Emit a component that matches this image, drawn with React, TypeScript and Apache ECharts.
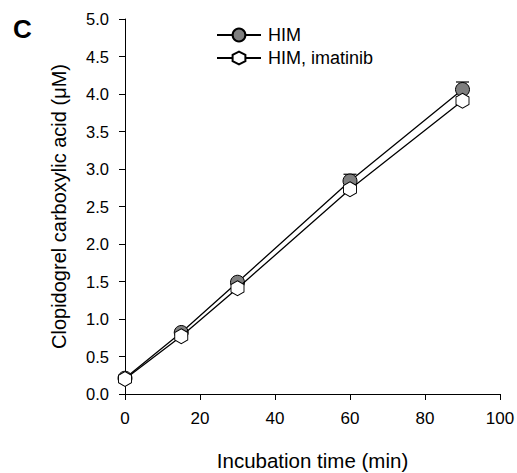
import React, { useEffect, useRef } from "react";
import * as echarts from "echarts";

const times = [0, 15, 30, 60, 90];
const himValues = [0.21, 0.82, 1.49, 2.84, 4.06];
const himErrors = [0.02, 0.03, 0.04, 0.09, 0.1];
const imaValues = [0.2, 0.77, 1.41, 2.73, 3.91];
const imaErrors = [0.02, 0.03, 0.03, 0.04, 0.05];
const seriesNames = ["HIM", "HIM, imatinib"];
const xTicks = { min: 0, max: 100, interval: 20 };
const yTicks = { min: 0, max: 5, interval: 0.5 };

const FONT = "'Liberation Sans', Arial, sans-serif";
const HEX = "path://M0,-1 L0.866,-0.5 L0.866,0.5 L0,1 L-0.866,0.5 L-0.866,-0.5 Z";

function errorSeries(values: number[], errs: number[], z: number) {
  return {
    type: "custom",
    z,
    silent: true,
    data: times.map((t, i) => [t, values[i], values[i] + errs[i]]),
    renderItem: (params: any, api: any) => {
      const base = api.coord([api.value(0), api.value(1)]);
      const top = api.coord([api.value(0), api.value(2)]);
      const hw = 6.5;
      return {
        type: "group",
        children: [
          { type: "line", shape: { x1: base[0], y1: base[1], x2: top[0], y2: top[1] }, style: { stroke: "#000", lineWidth: 1.2 } },
          { type: "line", shape: { x1: top[0] - hw, y1: top[1], x2: top[0] + hw, y2: top[1] }, style: { stroke: "#000", lineWidth: 1.2 } },
        ],
      };
    },
  };
}

export default function App() {
  const ref = useRef<HTMLDivElement>(null);
  useEffect(() => {
    if (!ref.current) return;
    const chart = echarts.init(ref.current, undefined, { renderer: "svg" });
    const axisLine = { show: true, lineStyle: { color: "#000", width: 1 } };
    chart.setOption({
      animation: false,
      textStyle: { fontFamily: FONT },
      grid: { left: 125, right: 17, top: 19, bottom: 79, containLabel: false, outerBoundsMode: "none" },
      graphic: [
        { type: "text", left: 13, top: 16, style: { text: "C", font: `bold 26px ${FONT}`, fill: "#000" } },
      ],
      legend: {
        orient: "vertical",
        left: 211,
        top: 21,
        itemWidth: 44,
        itemHeight: 16,
        itemGap: 5,
        textStyle: { fontSize: 18, lineHeight: 16, color: "#000", fontFamily: FONT, padding: [0, 0, 0, 2] },
        data: seriesNames,
      },
      xAxis: {
        type: "value",
        min: xTicks.min,
        max: xTicks.max,
        interval: xTicks.interval,
        name: "Incubation time (min)",
        nameLocation: "middle",
        nameGap: 56,
        nameTextStyle: { fontSize: 20.5, color: "#000", fontFamily: FONT },
        axisLine,
        axisTick: { show: true, length: 6, lineStyle: { color: "#000" } },
        axisLabel: { fontSize: 17, color: "#000", margin: 16, fontFamily: FONT },
        splitLine: { show: false },
      },
      yAxis: {
        type: "value",
        min: yTicks.min,
        max: yTicks.max,
        interval: yTicks.interval,
        name: "Clopidogrel carboxylic acid (\u03bcM)",
        nameLocation: "middle",
        nameGap: 56,
        nameTextStyle: { fontSize: 20, color: "#000", fontFamily: FONT },
        axisLine,
        axisTick: { show: true, length: 6, lineStyle: { color: "#000" } },
        axisLabel: { fontSize: 16.5, color: "#000", margin: 16, fontFamily: FONT, formatter: (v: number) => v.toFixed(1) },
        splitLine: { show: false },
      },
      series: [
        errorSeries(himValues, himErrors, 1),
        errorSeries(imaValues, imaErrors, 1),
        {
          name: seriesNames[0],
          type: "line",
          z: 2,
          data: times.map((t, i) => [t, himValues[i]]),
          symbol: "circle",
          symbolSize: 14,
          lineStyle: { color: "#000", width: 1.3 },
          itemStyle: { color: "#7f7f7f", borderColor: "#000", borderWidth: 1 },
        },
        {
          name: seriesNames[1],
          type: "line",
          z: 3,
          data: times.map((t, i) => [t, imaValues[i]]),
          symbol: HEX,
          symbolSize: [13, 15],
          lineStyle: { color: "#000", width: 1.3 },
          itemStyle: { color: "#fff", borderColor: "#000", borderWidth: 1 },
        },
      ],
    });
    return () => chart.dispose();
  }, []);
  return <div ref={ref} style={{ width: 517, height: 473, position: "absolute", left: 0, top: 0 }} />;
}
